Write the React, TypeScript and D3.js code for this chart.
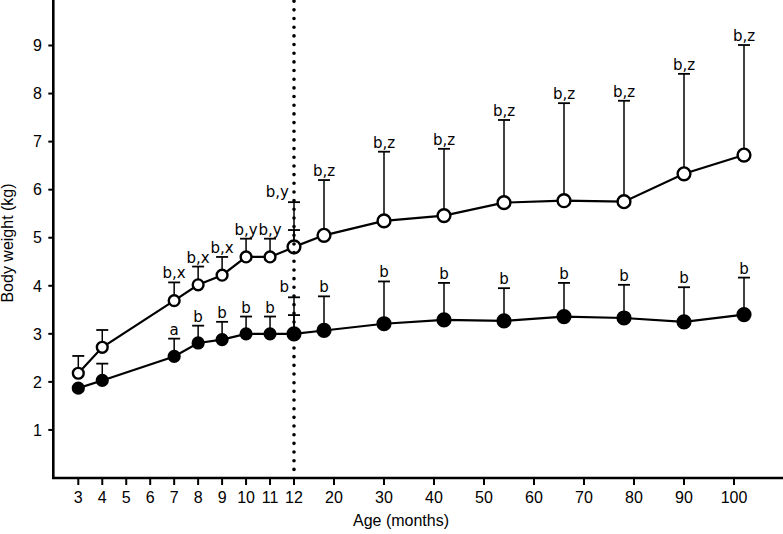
import React from "react";
import * as d3 from "d3";

const monthlyAges = [3, 4, 7, 8, 9, 10, 11, 12];
const laterAges = [12, 18, 30, 42, 54, 66, 78, 90, 102];

const openMonthly = [2.18, 2.72, 3.69, 4.02, 4.22, 4.6, 4.6, 4.8];
const openMonthlyUpper = [2.54, 3.08, 4.07, 4.4, 4.6, 4.98, 4.98, 5.16];
const openMonthlyLabels = ["", "", "b,x", "b,x", "b,x", "b,y", "b,y", ""];

const openLater = [4.81, 5.05, 5.35, 5.46, 5.73, 5.77, 5.75, 6.33, 6.72];
const openLaterUpper = [5.74, 6.2, 6.79, 6.85, 7.45, 7.8, 7.85, 8.41, 9.01];
const openLaterLabels = ["b,y", "b,z", "b,z", "b,z", "b,z", "b,z", "b,z", "b,z", "b,z"];

const closedMonthly = [1.87, 2.03, 2.53, 2.81, 2.88, 3.0, 3.0, 3.0];
const closedMonthlyUpper: (number | null)[] = [null, 2.38, 2.9, 3.17, 3.25, 3.36, 3.36, 3.39];
const closedMonthlyLabels = ["", "", "a", "b", "b", "b", "b", ""];

const closedLater = [3.0, 3.07, 3.21, 3.29, 3.27, 3.36, 3.33, 3.25, 3.4];
const closedLaterUpper = [3.76, 3.78, 4.09, 4.06, 3.95, 4.06, 4.02, 3.97, 4.17];
const closedLaterLabels = ["b", "b", "b", "b", "b", "b", "b", "b", "b"];

const xTicks = [3, 4, 5, 6, 7, 8, 9, 10, 11, 12, 20, 30, 40, 50, 60, 70, 80, 90, 100];
const yTicks = [1, 2, 3, 4, 5, 6, 7, 8, 9];

const W = 783;
const H = 534;
const FONT = "'Liberation Sans', Arial, Helvetica, sans-serif";
const LABEL_FONT = "'DejaVu Sans', Verdana, sans-serif";

export default function App() {
  const x = d3.scaleLinear().domain([3, 12, 102]).range([78.3, 294, 744]);
  const y = d3.scaleLinear().domain([0, 9]).range([478, 45.5]);
  const line = d3
    .line<[number, number]>()
    .x((d) => x(d[0]))
    .y((d) => y(d[1]));

  const axisLeft = 53.3;
  const base = y(0);

  type S = {
    ages: number[];
    vals: number[];
    upper: (number | null)[];
    labels: string[];
    open: boolean;
    r: number;
  };
  const series: S[] = [
    { ages: monthlyAges, vals: closedMonthly, upper: closedMonthlyUpper, labels: closedMonthlyLabels, open: false, r: 5.4 },
    { ages: laterAges, vals: closedLater, upper: closedLaterUpper, labels: closedLaterLabels, open: false, r: 6.4 },
    { ages: monthlyAges, vals: openMonthly, upper: openMonthlyUpper, labels: openMonthlyLabels, open: true, r: 5.4 },
    { ages: laterAges, vals: openLater, upper: openLaterUpper, labels: openLaterLabels, open: true, r: 6.4 },
  ];

  return (
    <svg
      width={W}
      height={H}
      style={{ position: "absolute", left: 0, top: 0, background: "#fff" }}
      fontFamily={FONT}
    >
      <rect width={W} height={H} fill="#fff" />
      {/* axes */}
      <line x1={axisLeft} x2={axisLeft} y1={0} y2={base + 1} stroke="#000" strokeWidth={2.6} />
      <line x1={axisLeft - 1.3} x2={W} y1={base} y2={base} stroke="#000" strokeWidth={2.6} />
      {yTicks.map((t) => (
        <g key={"y" + t}>
          <line x1={axisLeft - 5} x2={axisLeft} y1={y(t)} y2={y(t)} stroke="#000" strokeWidth={2} />
          <text x={42} y={y(t)} dy="0.36em" textAnchor="end" fontSize={16}>
            {t}
          </text>
        </g>
      ))}
      {xTicks.map((t) => (
        <g key={"x" + t}>
          <line x1={x(t)} x2={x(t)} y1={base} y2={base + 7} stroke="#000" strokeWidth={2} />
          <text x={x(t)} y={503} textAnchor="middle" fontSize={16}>
            {t}
          </text>
        </g>
      ))}
      <text x={401} y={526} textAnchor="middle" fontSize={16}>
        Age (months)
      </text>
      <text transform="translate(13,243) rotate(-90)" textAnchor="middle" fontSize={16}>
        Body weight (kg)
      </text>

      {/* lines */}
      {series.map((s, i) => (
        <path
          key={"l" + i}
          d={line(s.ages.map((a, j) => [a, s.vals[j]] as [number, number])) || ""}
          fill="none"
          stroke="#000"
          strokeWidth={2.2}
        />
      ))}
      {/* error bars */}
      {series.map((s, i) =>
        s.ages.map((a, j) => {
          const u = s.upper[j];
          if (u == null) return null;
          return (
            <g key={"e" + i + "-" + j}>
              <line x1={x(a)} x2={x(a)} y1={y(s.vals[j])} y2={y(u)} stroke="#000" strokeWidth={1.5} />
              <line x1={x(a) - 6} x2={x(a) + 6} y1={y(u)} y2={y(u)} stroke="#000" strokeWidth={1.8} />
            </g>
          );
        })
      )}
      {/* circles */}
      {series.map((s, i) =>
        s.ages.map((a, j) => (
          <circle
            key={"c" + i + "-" + j}
            cx={x(a)}
            cy={y(s.vals[j])}
            r={s.r}
            fill={s.open ? "#fff" : "#000"}
            stroke="#000"
            strokeWidth={2.4}
          />
        ))
      )}
      {/* labels */}
      {series.map((s, i) =>
        s.ages.map((a, j) => {
          const lab = s.labels[j];
          const u = s.upper[j];
          if (!lab || u == null) return null;
          const atTwelve = a === 12;
          return (
            <text
              key={"t" + i + "-" + j}
              x={atTwelve ? x(a) - 5 : x(a)}
              y={atTwelve ? y(u) - 5 : y(u) - 4}
              textAnchor={atTwelve ? "end" : "middle"}
              fontSize={15}
              fontFamily={LABEL_FONT}
            >
              {lab}
            </text>
          );
        })
      )}
      {/* dotted reference line */}
      <line
        x1={x(12)}
        x2={x(12)}
        y1={1.2}
        y2={base}
        stroke="#000"
        strokeWidth={3.6}
        strokeLinecap="round"
        strokeDasharray="0 8.67"
      />
    </svg>
  );
}
